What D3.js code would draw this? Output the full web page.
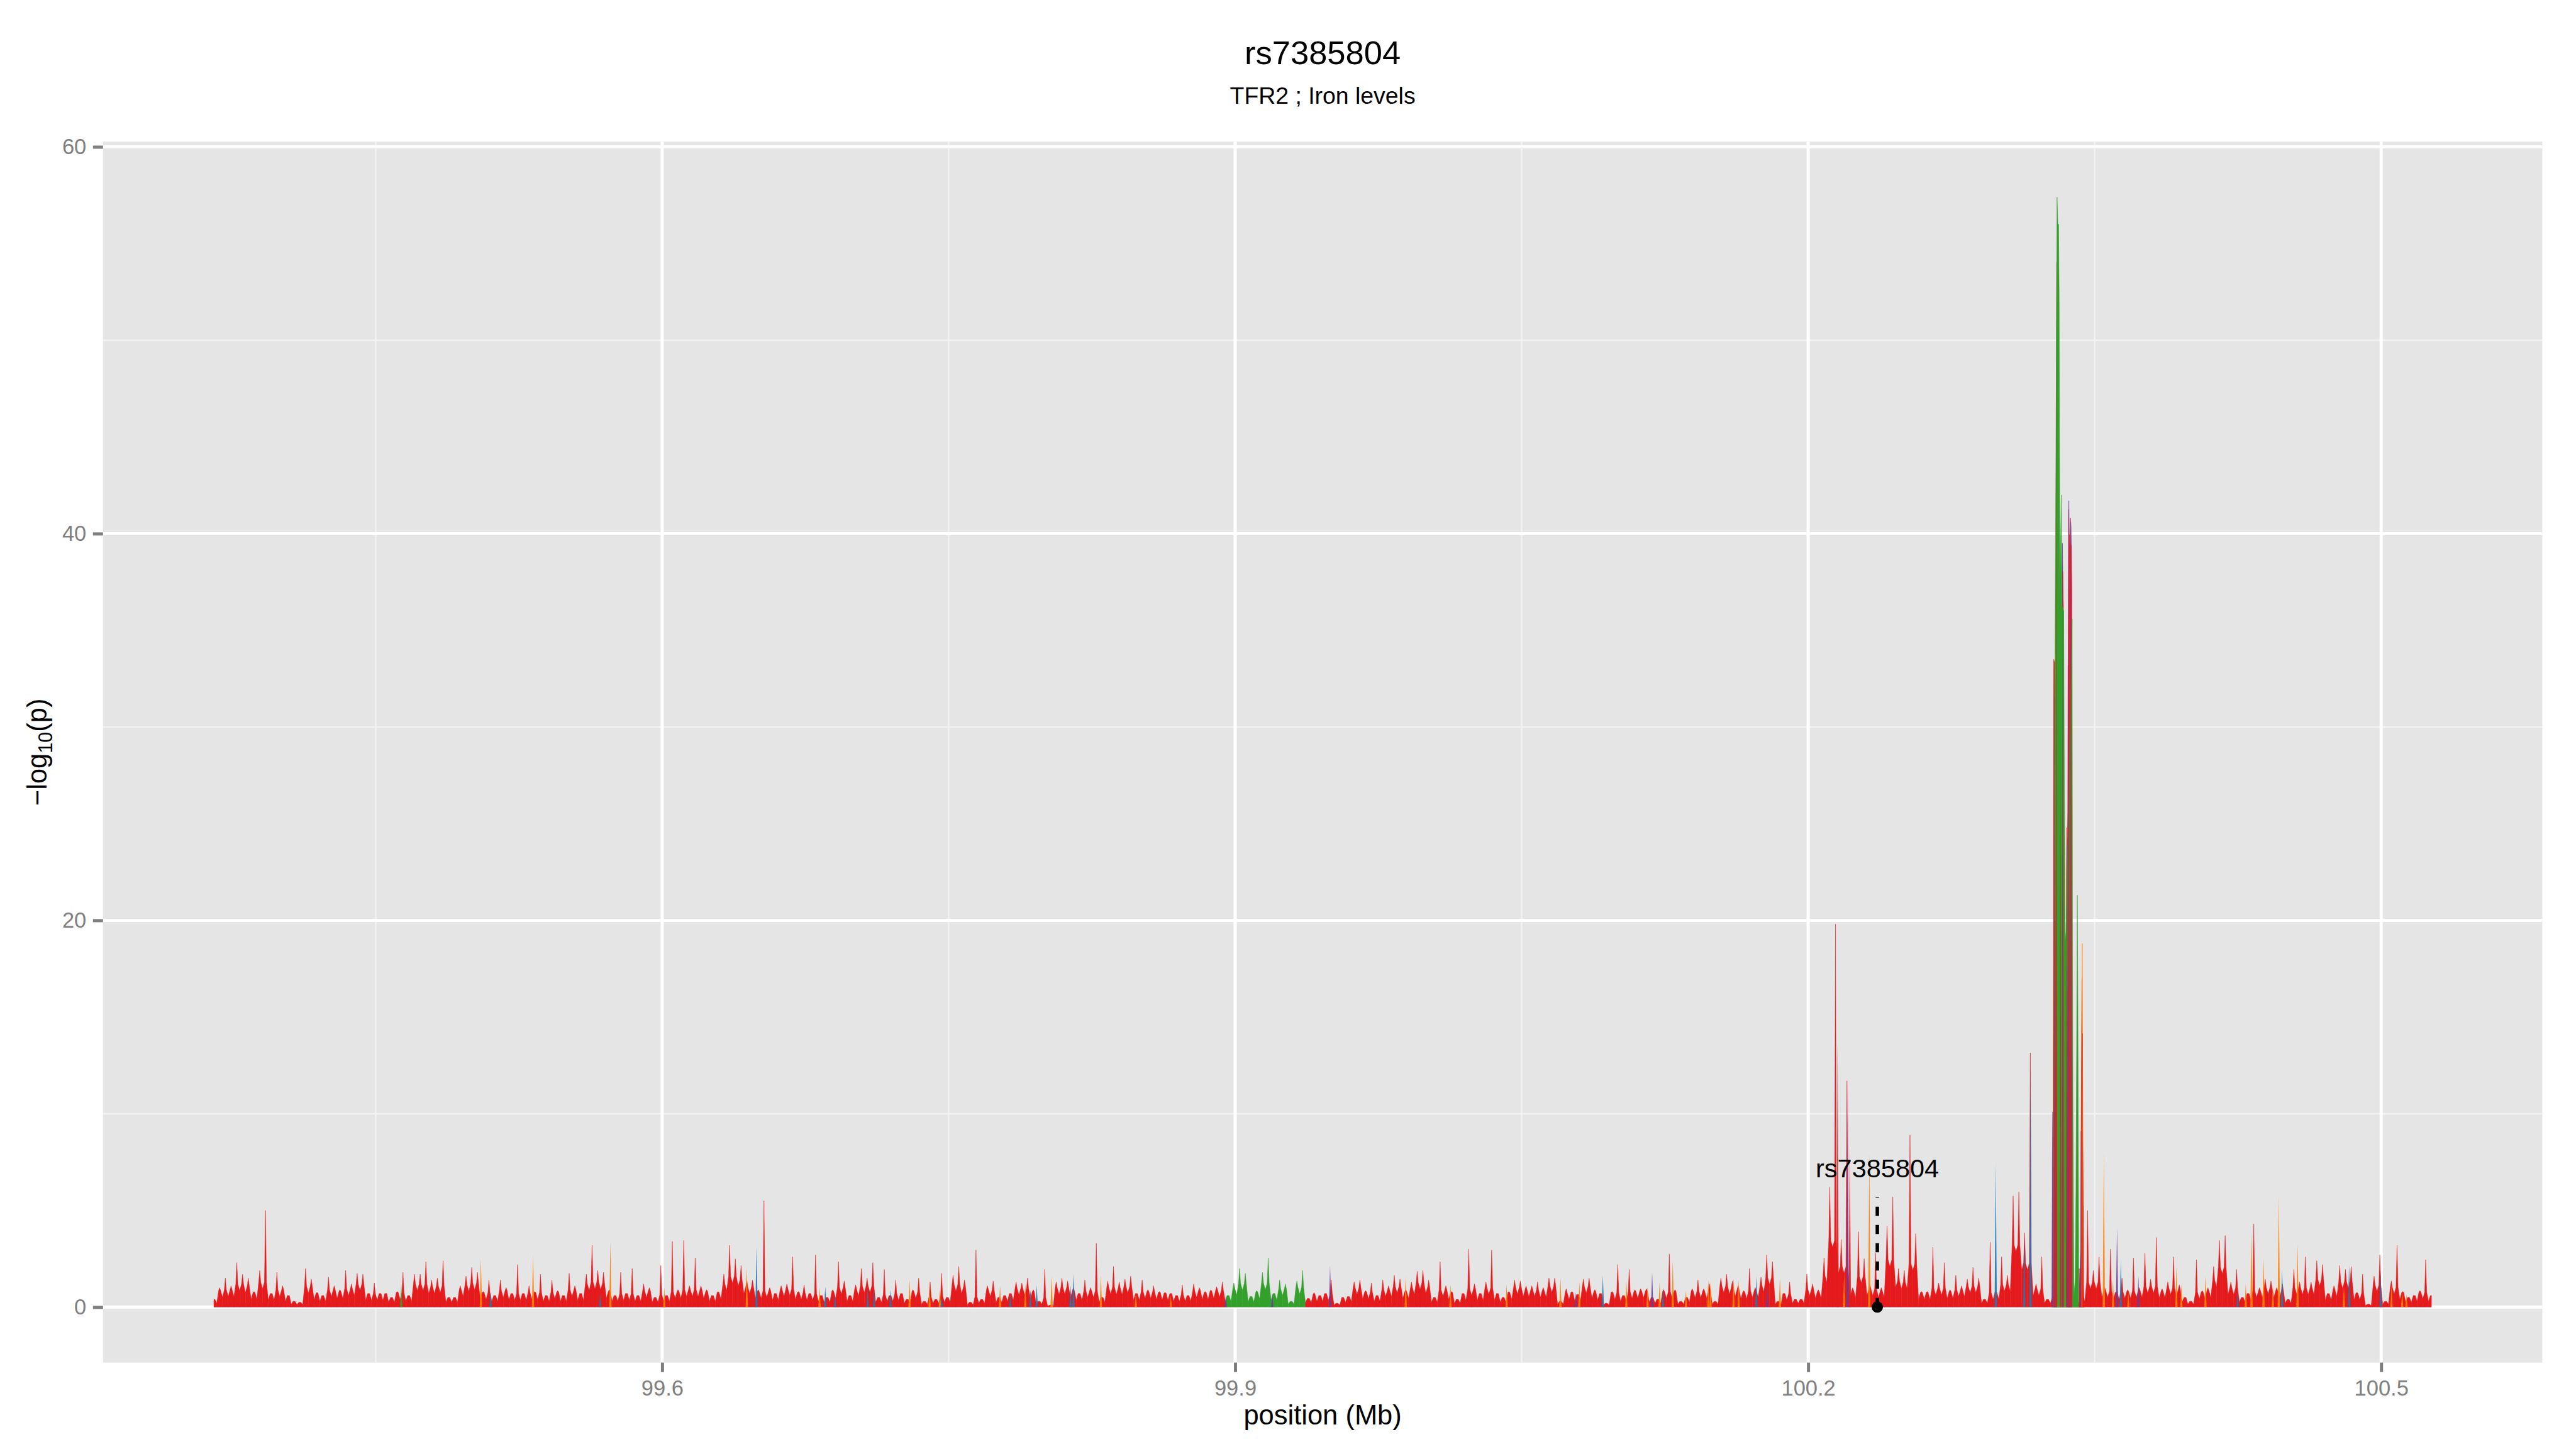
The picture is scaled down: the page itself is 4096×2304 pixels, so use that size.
<!DOCTYPE html>
<html>
<head>
<meta charset="utf-8">
<script src="https://cdn.jsdelivr.net/npm/d3@7"></script>
<style>
	html, body { margin: 0; padding: 0; background: #fff; }
	svg text { font-family: "Liberation Sans", Arial, Helvetica, sans-serif; }
</style>
</head>
<body>
<svg id="chart" width="4096" height="2304"></svg>
<script>
// spacing of the background SNP sequence (Mb)
var snpStep = 0.003;

// background -log10(p), low-LD (red) stretch west of the green block
var westStart = 99.3653;
var westLogP = [
	0.4,1.0,1.5,1.1,2.3,1.7,1.5,0.8,1.9,5.0,
	0.7,1.8,1.1,0.6,0.3,0.25,2.0,1.45,0.75,0.6,
	1.55,1.1,0.9,1.9,1.2,1.75,1.7,0.7,1.25,0.7,
	0.7,0.5,0.8,1.8,0.6,1.7,1.7,2.35,1.4,1.5,
	2.4,0.5,0.5,1.1,1.6,2.05,1.8,0.8,1.4,0.6,
	1.4,1.0,0.7,2.2,0.7,1.1,0.8,1.7,0.6,1.4,
	0.85,0.6,1.75,1.1,0.7,1.7,3.2,1.9,1.8,0.9,
	0.6,1.8,0.7,2.0,0.6,1.2,1.0,0.5,2.15,0.6,
	3.4,0.9,3.45,1.1,2.55,1.1,0.9,0.6,0.8,1.7,
	3.2,2.5,2.15,1.4,1.4,0.9,5.5,1.0,0.7,1.1,
	1.2,2.6,0.8,1.15,0.7,2.7,0.6,0.5,0.9,2.35,
	1.35,0.6,1.15,2.0,1.5,2.3,0.5,1.95,0.6,1.4,
	0.7,0.4,0.9,1.5,0.3,1.3,0.4,1.75,0.5,1.65,
	2.1,1.4,0.25,2.95,0.4,1.1,1.35,0.5,0.6,0.7,
	1.3,1.25,1.5,0.9,0.3,1.95,0.1,1.3,1.5,1.35,
	1.0,0.7,1.4,1.0,3.3,0.5,1.35,2.1,1.3,1.45,
	1.6,0.7,1.4,0.9,1.1,0.8,0.75,0.7,0.6,1.15,
	0.6,1.2,1.0,0.8,0.9,1.05,1.3
];

// green block around 99.9 Mb
var greenStart = 99.8963;
var greenLogP = [0.6,1.25,2.0,1.75,0.55,0.85,1.8,2.55,0.7,1.4,1.2,0.3,1.35,1.9];

// background east of the green block
var eastStart = 99.9383;
var eastLogP = [
	0.45,0.75,0.6,0.7,1.4,0.2,0.5,0.55,1.3,1.4,
	0.85,1.25,0.6,1.4,1.1,1.65,1.45,0.9,1.3,1.85,
	1.9,1.4,0.5,2.35,1.1,0.8,0.4,0.7,3.0,1.2,
	0.7,1.3,2.95,0.7,0.5,0.8,1.4,1.35,1.1,1.1,
	1.3,1.0,1.5,1.5,0.3,0.95,0.8,0.65,1.45,1.5,
	0.9,0.7,0.2,0.8,2.2,0.6,1.95,0.9,0.95,0.95,
	0.5,0.4,0.9,2.75,0.9,0.3,0.5,0.95,1.4,0.95,
	1.2,0.3,1.5,1.7,1.35,1.1,0.85,2.0,1.0,1.55,
	2.7,2.35,0.3,0.7,1.3,0.4,0.4,1.7,1.2,0.9,
	2.55,6.2,19.8,3.5,11.7,1.0,3.9,2.5,1.2,2.8,
	1.0,4.2,5.7,2.0,1.9,8.9,3.8,0.8,0.8,3.1,
	1.25,2.3,0.9,1.65,1.1,1.45,2.05,1.5,0.4,3.35,
	0.8,2.6,1.65,5.75,5.95,3.85,13.15,1.2,2.6,0.4,
	0.5,0.4,0.4,0.4,0.4,0.6,5.0,1.9,2.6,1.0,
	3.0,0.8,1.5,0.9,2.55,1.0,2.8,1.45,3.6,0.95,
	1.3,2.6,1.15,0.5,0.3,2.45,0.85,1.0,2.1,3.45,
	3.7,1.3,1.95,0.5,0.7,4.3,1.0,1.45,1.35,1.0,
	1.2,0.4,1.95,1.3,2.6,1.3,2.4,2.2,0.7,1.1,
	2.15,1.95,2.1,0.75,1.7,0.15,1.6,2.7,0.3,1.35,
	3.2,0.8,0.5,0.6,0.85,2.45,0.6
];

// the TFR2 peak cluster
var peakPos = [
	100.3278,100.3283,100.3286,100.3289,100.3293,100.3297,100.3300,100.3303,100.3307,100.3311,
	100.3314,100.3318,100.3321,100.3325,100.3328,100.3331,100.3335,100.3338,100.3341,100.3343,
	100.3346,100.3350,100.3354,100.3356,100.3359,100.3363,100.3365,100.3369,100.3373,100.3376,
	100.3379,100.3382,100.3384,100.3386,100.3391,100.3398,100.3402,100.3405,100.3409,100.3412,
	100.3416,100.3421,100.3426,100.3432,100.3435,100.3438,100.3442
];
var peakLogP = [
	7.3,12.9,33.5,33.3,29.9,24.7,50.7,57.4,56.0,56.0,
	52.2,36.8,30.0,42.0,36.3,39.5,36.6,36.0,27.6,24.0,
	19.0,19.4,24.8,22.9,25.6,40.8,41.7,38.2,40.8,40.4,
	38.4,35.6,18.2,10.9,0.5,1.5,6.0,12.1,21.3,15.5,
	3.0,1.0,3.0,15.2,18.8,9.5,1.0
];
var peakLd = [
	"p","g","r","r","p","r","r","g","g","g",
	"g","g","r","g","g","p","r","g","g","g",
	"g","g","r","p","r","r","p","r","r","p",
	"r","g","g","g","g","g","g","g","g","g",
	"g","r","p","r","o","r","r"
];

// single coloured SNPs standing out of the background
var needlePos = [
	99.4634,99.5051,99.5102,99.5324,99.5675,99.5729,99.6011,99.6443,99.6494,99.6824,
	99.6854,99.6905,99.7076,99.7109,99.7196,99.7295,99.7400,99.7454,99.7463,99.7769,
	99.7823,99.7901,99.7928,99.7961,99.8039,99.8138,99.8153,99.8297,99.8480,99.8663,
	99.8951,99.9194,99.9497,99.9893,100.0127,100.0421,100.0703,100.0784,100.0802,100.0925,
	100.1048,100.1159,100.1183,100.1222,100.1240,100.1291,100.1360,100.1477,100.1489,100.1609,
	100.1636,100.1729,100.1786,100.1852,100.2154,100.2188,100.2207,100.2218,100.2320,100.2982,
	100.3131,100.3164,100.3548,100.3596,100.3617,100.3637,100.3676,100.3729,100.3928,100.3954,
	100.4080,100.4248,100.4291,100.4321,100.4384,100.4433,100.4464,100.4481,100.4562,100.4805,
	100.4832,100.4997,100.5054,100.5110,100.5132
];
var needleLogP = [
	1.2,2.5,0.8,2.7,0.7,3.35,1.0,2.05,3.1,1.0,
	1.05,0.65,1.0,0.9,0.9,1.4,1.15,0.95,0.5,1.1,
	0.7,1.15,0.9,1.15,1.6,1.15,1.7,1.65,0.7,0.6,
	0.6,0.7,2.15,1.6,1.15,1.15,1.5,0.75,1.3,1.65,
	1.35,1.05,1.8,1.25,1.0,2.4,0.85,1.4,1.3,1.5,
	1.4,1.6,1.1,1.5,13.7,1.7,11.5,8.3,8.0,7.45,
	3.6,12.5,8.0,1.35,4.1,2.5,0.8,1.6,2.1,1.15,
	1.6,0.8,1.2,3.9,2.5,1.05,5.75,2.0,3.25,1.05,
	2.15,1.9,1.15,0.8,0.65
];
var needleLd = [
	"g","o","b","o","b","o","o","o","b","o",
	"b","b","b","b","b","o","o","o","b","o",
	"b","o","b","b","o","b","b","o","o","o",
	"p","p","p","o","o","o","o","p","o","b",
	"o","o","p","o","b","o","o","o","o","o",
	"o","b","p","o","r","o","p","r","o","b",
	"b","b","o","o","p","b","o","p","o","o",
	"o","b","o","o","o","o","o","b","o","o",
	"b","b","o","o","o"
];

var leadSnp = "rs7385804",
	leadPos = 100.2362,
	leadLogP = 0;

var xTicks = [99.6, 99.9, 100.2, 100.5],
	yTicks = [0, 20, 40, 60];

var ldColour = { r: "#E41A1C", o: "#FF7F00", g: "#33A02C", b: "#1F78B4", p: "#6A3D9A" };

// ---- layout ----
var width = 4096, height = 2304,
	panelL = 163.8, panelR = 4042.4, panelT = 225.2, panelB = 2166.6,
	needleHalf = 0.0006,
	peakNeedleHalf = 0.0004;

var bg = [];
westLogP.forEach(function(v, i) { bg.push({ pos: westStart + i * snpStep, logp: v, ld: "r" }); });
greenLogP.forEach(function(v, i) { bg.push({ pos: greenStart + i * snpStep, logp: v, ld: "g" }); });
eastLogP.forEach(function(v, i) { bg.push({ pos: eastStart + i * snpStep, logp: v, ld: "r" }); });

var peak = peakPos.map(function(p, i) { return { pos: p, logp: peakLogP[i], ld: peakLd[i] }; });
var needles = needlePos.map(function(p, i) { return { pos: p, logp: needleLogP[i], ld: needleLd[i] }; });

var xExt = d3.extent(bg.map(function(d) { return d.pos; }).concat(peakPos, needlePos)),
	xPad = (xExt[1] - xExt[0]) * 0.05,
	yMax = d3.max(peakLogP.concat(westLogP, eastLogP, needleLogP)),
	yPad = yMax * 0.05;

var x = d3.scaleLinear().domain([xExt[0] - xPad, xExt[1] + xPad]).range([panelL, panelR]);
var y = d3.scaleLinear().domain([-yPad, yMax + yPad]).range([panelB, panelT]);

var svg = d3.select("#chart");

// panel and grid
svg.append("rect")
	.attr("x", panelL).attr("y", panelT)
	.attr("width", panelR - panelL).attr("height", panelB - panelT)
	.attr("fill", "#E5E5E5");

var xMinor = [], yMinor = [];
var xGap = xTicks[1] - xTicks[0], yGap = yTicks[1] - yTicks[0];
[xTicks[0] - xGap].concat(xTicks).forEach(function(t) {
	var m = t + xGap / 2;
	if (m > x.domain()[0] && m < x.domain()[1]) xMinor.push(m);
});
[yTicks[0] - yGap].concat(yTicks).forEach(function(t) {
	var m = t + yGap / 2;
	if (m > y.domain()[0] && m < y.domain()[1]) yMinor.push(m);
});

var grid = svg.append("g");
grid.selectAll(".xMinor").data(xMinor).enter().append("line")
	.attr("x1", x).attr("x2", x).attr("y1", panelT).attr("y2", panelB)
	.attr("stroke", "#F2F2F2").attr("stroke-width", 2.4);
grid.selectAll(".yMinor").data(yMinor).enter().append("line")
	.attr("x1", panelL).attr("x2", panelR).attr("y1", y).attr("y2", y)
	.attr("stroke", "#F2F2F2").attr("stroke-width", 2.4);
grid.selectAll(".xMajor").data(xTicks).enter().append("line")
	.attr("x1", x).attr("x2", x).attr("y1", panelT).attr("y2", panelB)
	.attr("stroke", "#fff").attr("stroke-width", 5);
grid.selectAll(".yMajor").data(yTicks).enter().append("line")
	.attr("x1", panelL).attr("x2", panelR).attr("y1", y).attr("y2", y)
	.attr("stroke", "#fff").attr("stroke-width", 5);

function pt(pos, v) { return x(pos) + "," + y(v); }

function needlePath(d, half) {
	return "M" + pt(d.pos - half, 0) + "L" + pt(d.pos, d.logp) + "L" + pt(d.pos + half, 0) + "Z";
}

// background: notched fringe, each SNP rising from shoulders into a thin needle
function fringeShape(run, i) {
	var d = run[i], prev = run[i - 1], next = run[i + 1];
	var mL = prev ? (prev.pos + d.pos) / 2 : d.pos,
		mR = next ? (next.pos + d.pos) / 2 : d.pos,
		hL = prev ? Math.min(prev.logp, d.logp) * 0.5 : 0,
		hR = next ? Math.min(next.logp, d.logp) * 0.5 : 0,
		sh = Math.min(d.logp, Math.max(hL, hR) + 0.35),
		wL = (d.pos - mL) * 0.35,
		wR = (mR - d.pos) * 0.35;
	return "M" + pt(mL, 0) + "L" + pt(mL, hL) + "L" + pt(d.pos - wL, sh) +
		"L" + pt(d.pos, d.logp) + "L" + pt(d.pos + wR, sh) + "L" + pt(mR, hR) +
		"L" + pt(mR, 0) + "Z";
}

// peak cluster segment: each SNP owns the stretch between midpoints
function areaShape(run, i) {
	var d = run[i], prev = run[i - 1], next = run[i + 1];
	var mL = prev ? (prev.pos + d.pos) / 2 : d.pos,
		mR = next ? (next.pos + d.pos) / 2 : d.pos,
		hL = prev ? (prev.logp + d.logp) / 2 : 0,
		hR = next ? (next.logp + d.logp) / 2 : 0;
	return "M" + pt(mL, 0) + "L" + pt(mL, hL) + "L" + pt(d.pos, d.logp) +
		"L" + pt(mR, hR) + "L" + pt(mR, 0) + "Z";
}

svg.append("g").selectAll("path").data(bg).enter().append("path")
	.attr("d", function(d, i) { return fringeShape(bg, i); })
	.attr("fill", function(d) { return ldColour[d.ld]; })
	.attr("stroke", function(d) { return ldColour[d.ld]; })
	.attr("stroke-width", 0.5);

svg.append("g").selectAll("path").data(needles).enter().append("path")
	.attr("d", function(d) { return needlePath(d, needleHalf); })
	.attr("fill", function(d) { return ldColour[d.ld]; })
	.attr("fill-opacity", 0.9);

// peak cluster: lower-LD segments first, the green block over them,
// then the lower-LD SNPs again as thin lines through the block
var peakIdx = d3.range(peak.length),
	otherIdx = peakIdx.filter(function(i) { return peak[i].ld !== "g"; }),
	peakGreen = peak.filter(function(d) { return d.ld === "g"; });

svg.append("g").selectAll("path").data(otherIdx).enter().append("path")
	.attr("d", function(i) { return areaShape(peak, i); })
	.attr("fill", function(i) { return ldColour[peak[i].ld]; })
	.attr("stroke", function(i) { return ldColour[peak[i].ld]; })
	.attr("stroke-width", 0.6)
	.attr("fill-opacity", 0.9);

var peakArea = d3.area()
	.x(function(d) { return x(d.pos); })
	.y0(y(0))
	.y1(function(d) { return y(d.logp); });

svg.append("path")
	.attr("d", peakArea(peakGreen))
	.attr("fill", ldColour.g)
	.attr("stroke", ldColour.g)
	.attr("stroke-width", 0.6);

svg.append("g").selectAll("path").data(otherIdx).enter().append("path")
	.attr("d", function(i) { return needlePath(peak[i], peakNeedleHalf); })
	.attr("fill", function(i) { return ldColour[peak[i].ld]; })
	.attr("fill-opacity", 0.85);

// lead SNP marker
var lead = svg.append("g");
lead.append("line")
	.attr("x1", x(leadPos)).attr("x2", x(leadPos))
	.attr("y1", y(leadLogP)).attr("y2", y(5.7))
	.attr("stroke", "#000").attr("stroke-width", 5.5)
	.attr("stroke-dasharray", "14.5,14.5");
lead.append("circle")
	.attr("cx", x(leadPos)).attr("cy", y(leadLogP)).attr("r", 9)
	.attr("fill", "#000");
lead.append("text")
	.attr("x", x(leadPos)).attr("y", y(6.7))
	.attr("text-anchor", "middle")
	.attr("font-size", 41.5)
	.attr("fill", "#000")
	.text(leadSnp);

// axes
var yAxis = svg.append("g")
	.attr("transform", "translate(" + panelL + ",0)")
	.call(d3.axisLeft(y).tickValues(yTicks).tickFormat(d3.format("d")).tickSize(16).tickPadding(10.5));
var xAxis = svg.append("g")
	.attr("transform", "translate(0," + panelB + ")")
	.call(d3.axisBottom(x).tickValues(xTicks).tickFormat(function(d) { return d; }).tickSize(15).tickPadding(13));

[xAxis, yAxis].forEach(function(a) {
	a.select(".domain").remove();
	a.selectAll(".tick line").attr("stroke", "#7F7F7F").attr("stroke-width", 5);
	a.selectAll(".tick text")
		.attr("fill", "#7F7F7F")
		.attr("font-size", 34.5)
		.attr("font-family", "Liberation Sans, Arial, sans-serif");
});

// titles
var midX = (panelL + panelR) / 2;
svg.append("text")
	.attr("x", midX).attr("y", 101.8)
	.attr("text-anchor", "middle").attr("font-size", 52.5)
	.text("rs7385804");
svg.append("text")
	.attr("x", midX).attr("y", 164.9)
	.attr("text-anchor", "middle").attr("font-size", 37.4)
	.text("TFR2 ; Iron levels");
svg.append("text")
	.attr("x", midX).attr("y", 2265)
	.attr("text-anchor", "middle").attr("font-size", 43.5)
	.text("position (Mb)");

var yTitle = svg.append("text")
	.attr("transform", "translate(74," + ((panelT + panelB) / 2) + ") rotate(-90)")
	.attr("text-anchor", "middle").attr("font-size", 43.5);
yTitle.append("tspan").text("\u2212log");
yTitle.append("tspan").attr("font-size", 30.5).attr("dy", 9).text("10");
yTitle.append("tspan").attr("dy", -9).text("(p)");
</script>
</body>
</html>
